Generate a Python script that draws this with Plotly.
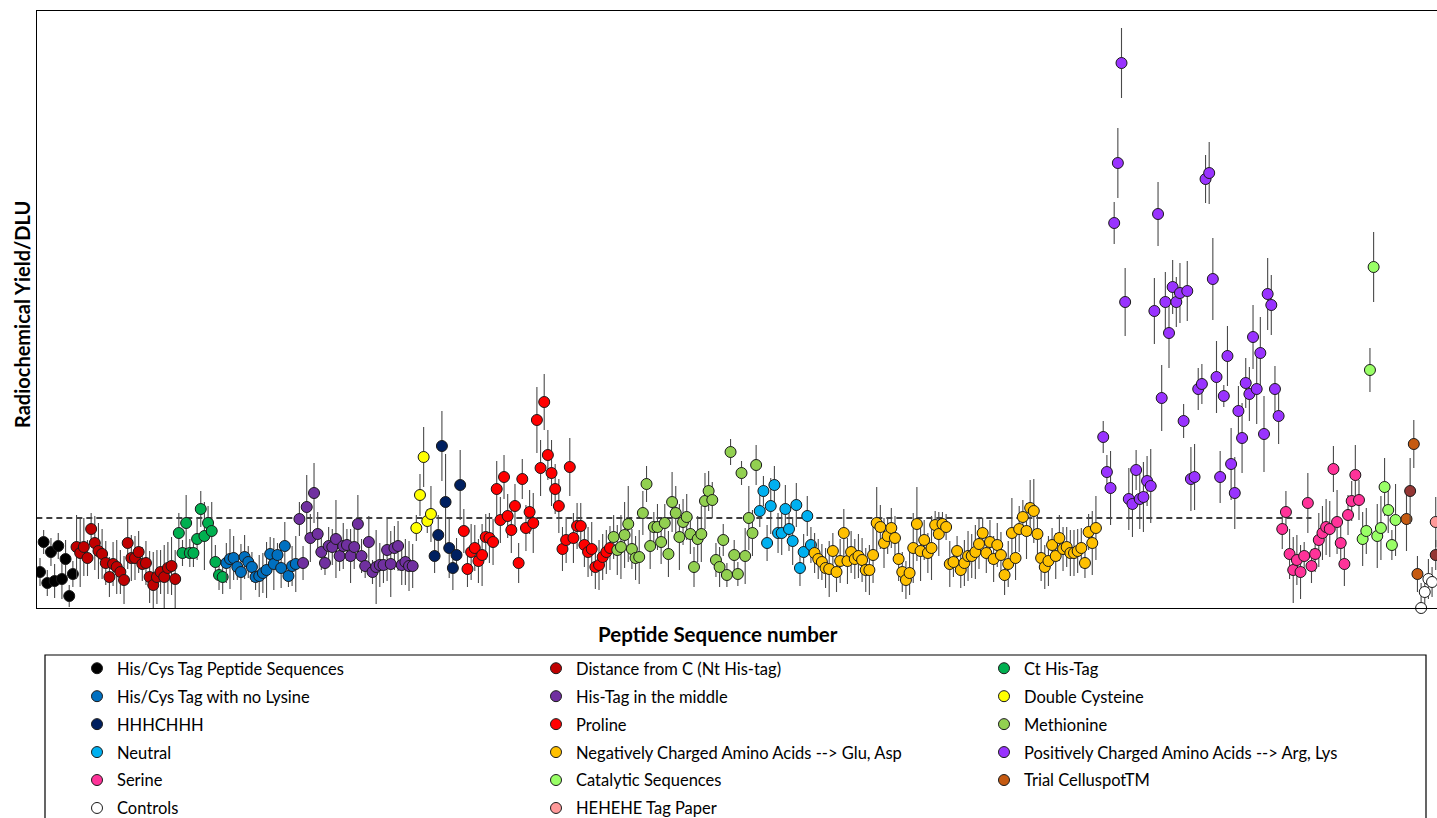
import plotly.graph_objects as go

# ---- peptide families: radiochemical yield per DLU and its standard deviation ----
his_cys_y = [0.36, 0.66, 0.25, 0.56, 0.27, 0.62, 0.29, 0.49, 0.12, 0.34]
his_cys_err = [0.14, 0.12, 0.13, 0.14, 0.17, 0.13, 0.20, 0.19, 0.11, 0.13]

dist_c_y = [0.61, 0.55, 0.61, 0.50, 0.79, 0.65, 0.57, 0.54, 0.45, 0.31, 0.44, 0.41, 0.36, 0.28,
            0.65, 0.50, 0.50, 0.56, 0.44, 0.45, 0.31, 0.23, 0.31, 0.36, 0.31, 0.40, 0.42, 0.29]
dist_c_err = [0.32, 0.34, 0.29, 0.18, 0.16, 0.27, 0.28, 0.25, 0.22, 0.20, 0.22, 0.27, 0.22, 0.24,
              0.26, 0.23, 0.22, 0.21, 0.17, 0.22, 0.26, 0.33, 0.27, 0.22, 0.32, 0.26, 0.29, 0.29]

ct_his_y = [0.75, 0.55, 0.85, 0.55, 0.55, 0.69, 0.99, 0.72, 0.85, 0.77, 0.46, 0.33, 0.31]
ct_his_err = [0.20, 0.13, 0.28, 0.14, 0.14, 0.21, 0.18, 0.34, 0.17, 0.29, 0.17, 0.15, 0.17]

no_lys_y = [0.45, 0.49, 0.50, 0.41, 0.36, 0.51, 0.46, 0.41, 0.31, 0.32,
            0.35, 0.38, 0.54, 0.44, 0.53, 0.40, 0.62, 0.32, 0.42, 0.44]
no_lys_err = [0.20, 0.30, 0.22, 0.13, 0.28, 0.22, 0.16, 0.15, 0.13, 0.21,
              0.20, 0.28, 0.17, 0.26, 0.12, 0.20, 0.24, 0.11, 0.20, 0.28]

mid_his_y = [0.89, 0.45, 1.01, 0.70, 1.15, 0.74, 0.56, 0.45, 0.62, 0.61, 0.69, 0.52, 0.62, 0.63, 0.52, 0.61,
             0.84, 0.52, 0.42, 0.66, 0.36, 0.41, 0.43, 0.43, 0.58, 0.44, 0.60, 0.62, 0.43, 0.46, 0.42, 0.42]
mid_his_err = [0.17, 0.17, 0.32, 0.24, 0.30, 0.22, 0.18, 0.12, 0.19, 0.18, 0.39, 0.15, 0.23, 0.16, 0.27, 0.22,
               0.29, 0.17, 0.12, 0.26, 0.12, 0.37, 0.22, 0.18, 0.31, 0.33, 0.22, 0.25, 0.20, 0.23, 0.25, 0.22]

double_cys_y = [0.80, 1.13, 1.51, 0.87, 0.94]
double_cys_err = [0.13, 0.21, 0.30, 0.12, 0.28]

hhhchhh_y = [0.52, 0.73, 1.62, 1.06, 0.60, 0.40, 0.53, 1.23]
hhhchhh_err = [0.17, 0.20, 0.35, 0.48, 0.30, 0.22, 0.17, 0.35]

proline_y = [0.77, 0.39, 0.56, 0.60, 0.47, 0.53, 0.71, 0.70, 0.66, 1.19, 0.88, 1.31, 0.92, 0.78,
             1.02, 0.45, 1.29, 0.80, 0.96, 0.85, 1.88, 1.40, 2.06, 1.53, 1.35, 1.19, 1.02, 0.59,
             0.68, 1.41, 0.70, 0.82, 0.82, 0.63, 0.56, 0.59, 0.41, 0.43, 0.51, 0.56, 0.60]
proline_err = [0.22, 0.18, 0.28, 0.23, 0.22, 0.31, 0.23, 0.25, 0.23, 0.28, 0.23, 0.22, 0.22, 0.23,
               0.22, 0.20, 0.20, 0.23, 0.22, 0.30, 0.33, 0.28, 0.28, 0.25, 0.33, 0.25, 0.27, 0.22,
               0.23, 0.29, 0.25, 0.23, 0.23, 0.22, 0.25, 0.27, 0.22, 0.25, 0.23, 0.22, 0.22]

methionine_y = [0.71, 0.58, 0.61, 0.73, 0.84, 0.59, 0.50, 0.51, 0.95, 1.24, 0.62, 0.81, 0.81, 0.66,
                0.85, 0.54, 1.06, 0.95, 0.71, 0.86, 0.91, 0.74, 0.41, 0.69, 0.74, 1.07, 1.17, 1.08,
                0.48, 0.41, 0.68, 0.33, 1.56, 0.53, 0.34, 1.35, 0.52, 0.90, 0.75, 1.43]
methionine_err = [0.22, 0.25, 0.32, 0.33, 0.38, 0.20, 0.22, 0.27, 0.22, 0.18, 0.23, 0.15, 0.23, 0.22,
                  0.19, 0.23, 0.30, 0.27, 0.33, 0.23, 0.23, 0.20, 0.20, 0.23, 0.28, 0.28, 0.20, 0.18,
                  0.17, 0.20, 0.16, 0.12, 0.13, 0.15, 0.12, 0.12, 0.28, 0.32, 0.23, 0.20]

neutral_y = [0.97, 1.17, 0.65, 1.02, 1.23, 0.75, 0.75, 0.99, 0.79, 0.67, 1.03, 0.40, 0.56, 0.92, 0.63]
neutral_err = [0.16, 0.15, 0.18, 0.28, 0.19, 0.20, 0.22, 0.24, 0.22, 0.24, 0.22, 0.18, 0.18, 0.20, 0.18]

negative_y = [0.55, 0.49, 0.46, 0.40, 0.39, 0.57, 0.36, 0.47, 0.75, 0.47, 0.56, 0.49, 0.52,
              0.48, 0.38, 0.38, 0.53, 0.85, 0.81, 0.65, 0.72, 0.80, 0.70, 0.49, 0.36, 0.28,
              0.35, 0.60, 0.84, 0.57, 0.68, 0.55, 0.60, 0.83, 0.74, 0.84, 0.81, 0.44, 0.46,
              0.57, 0.38, 0.45, 0.52, 0.52, 0.56, 0.64, 0.75, 0.55, 0.66, 0.49, 0.63, 0.53,
              0.33, 0.44, 0.75, 0.50, 0.79, 0.91, 0.77, 1.00, 0.97, 0.74, 0.50, 0.41, 0.47,
              0.63, 0.52, 0.70, 0.59, 0.61, 0.55, 0.55, 0.57, 0.60, 0.45, 0.76, 0.65, 0.80]
negative_err = [0.20, 0.20, 0.18, 0.20, 0.28, 0.18, 0.20, 0.22, 0.24, 0.23, 0.21, 0.20, 0.22,
                0.22, 0.22, 0.25, 0.28, 0.36, 0.22, 0.25, 0.18, 0.20, 0.22, 0.22, 0.20, 0.19,
                0.22, 0.35, 0.37, 0.30, 0.20, 0.20, 0.32, 0.14, 0.22, 0.12, 0.13, 0.23, 0.15,
                0.15, 0.18, 0.23, 0.25, 0.22, 0.27, 0.25, 0.15, 0.20, 0.22, 0.23, 0.22, 0.23,
                0.20, 0.23, 0.35, 0.22, 0.23, 0.17, 0.28, 0.28, 0.32, 0.22, 0.23, 0.22, 0.25,
                0.17, 0.23, 0.23, 0.22, 0.20, 0.23, 0.23, 0.22, 0.20, 0.15, 0.18, 0.32, 0.32]

positive_y = [1.71, 1.36, 1.20, 3.85, 4.45, 5.45, 3.06, 1.09, 1.04, 1.38, 1.09, 1.11, 1.27,
              1.22, 2.97, 3.94, 2.10, 3.06, 2.75, 3.21, 3.06, 3.15, 1.87, 3.17, 1.29, 1.31,
              2.19, 2.24, 4.29, 4.35, 3.29, 2.31, 1.31, 2.12, 2.52, 1.44, 1.15, 1.97, 1.70,
              2.25, 2.14, 2.71, 2.19, 2.55, 1.74, 3.14, 3.03, 2.19, 1.92]
positive_err = [0.16, 0.17, 0.37, 0.21, 0.35, 0.35, 0.34, 0.31, 0.33, 0.20, 0.30, 0.35, 0.25,
                0.37, 0.33, 0.32, 0.33, 0.30, 0.35, 0.27, 0.25, 0.30, 0.17, 0.30, 0.32, 0.33,
                0.21, 0.20, 0.24, 0.31, 0.41, 0.36, 0.26, 0.11, 0.30, 0.36, 0.36, 0.25, 0.35,
                0.25, 0.27, 0.32, 0.35, 0.36, 0.38, 0.36, 0.30, 0.23, 0.28]

serine_y = [0.79, 0.96, 0.54, 0.38, 0.48, 0.36, 0.52, 1.05, 0.42, 0.54, 0.68,
            0.75, 0.81, 0.79, 1.39, 0.86, 0.65, 0.44, 0.93, 1.07, 1.33, 1.08]
serine_err = [0.20, 0.21, 0.25, 0.33, 0.25, 0.27, 0.14, 0.30, 0.17, 0.18, 0.27,
              0.27, 0.28, 0.28, 0.23, 0.32, 0.17, 0.22, 0.20, 0.20, 0.30, 0.20]

catalytic_y = [0.69, 0.77, 2.38, 3.41, 0.72, 0.80, 1.21, 0.98, 0.63, 0.88]
catalytic_err = [0.27, 0.23, 0.22, 0.35, 0.32, 0.32, 0.29, 0.23, 0.15, 0.36]

trial_seq = [375, 377, 378]
trial_y = [0.89, 1.64, 0.34]
trial_err = [0.32, 0.24, 0.18]

trial_repeat_seq = [376, 383]
trial_repeat_y = [1.17, 0.53]
trial_repeat_err = [0.33, 0.15]

controls_seq = [379, 380, 381, 382]
controls_y = [0.00, 0.16, 0.29, 0.26]
controls_err = [0.25, 0.15, 0.20, 0.15]

hehehe_seq = [383]
hehehe_y = [0.86]
hehehe_err = [0.25]

# first sequence number of each contiguous family block
start_seq = {
    "his_cys": 1, "dist_c": 11, "ct_his": 39, "no_lys": 52, "mid_his": 72,
    "double_cys": 104, "hhhchhh": 109, "proline": 117, "methionine": 158,
    "neutral": 198, "negative": 213, "positive": 292, "serine": 341, "catalytic": 363,
}

threshold_y = 0.90          # reference yield, dashed line
threshold_end_seq = 349     # last sequence number covered by the dashed line


def seq(key, values):
    s = start_seq[key]
    return list(range(s, s + len(values)))


# (legend label, fill colour, x, y, err, legend column)
series = [
    ("His/Cys Tag Peptide Sequences", "#000000", seq("his_cys", his_cys_y), his_cys_y, his_cys_err, "legend"),
    ("Distance from C (Nt His-tag)", "#C00000", seq("dist_c", dist_c_y), dist_c_y, dist_c_err, "legend2"),
    ("Ct His-Tag", "#00B050", seq("ct_his", ct_his_y), ct_his_y, ct_his_err, "legend3"),
    ("His/Cys Tag with no Lysine", "#0070C0", seq("no_lys", no_lys_y), no_lys_y, no_lys_err, "legend"),
    ("His-Tag in the middle", "#7030A0", seq("mid_his", mid_his_y), mid_his_y, mid_his_err, "legend2"),
    ("Double Cysteine", "#FFFF00", seq("double_cys", double_cys_y), double_cys_y, double_cys_err, "legend3"),
    ("HHHCHHH", "#002060", seq("hhhchhh", hhhchhh_y), hhhchhh_y, hhhchhh_err, "legend"),
    ("Proline", "#FF0000", seq("proline", proline_y), proline_y, proline_err, "legend2"),
    ("Methionine", "#92D050", seq("methionine", methionine_y), methionine_y, methionine_err, "legend3"),
    ("Neutral", "#00B0F0", seq("neutral", neutral_y), neutral_y, neutral_err, "legend"),
    ("Negatively Charged Amino Acids --> Glu, Asp", "#FFC000", seq("negative", negative_y), negative_y, negative_err, "legend2"),
    ("Positively Charged Amino Acids --> Arg, Lys", "#9933FF", seq("positive", positive_y), positive_y, positive_err, "legend3"),
    ("Serine", "#FF3399", seq("serine", serine_y), serine_y, serine_err, "legend"),
    ("Catalytic Sequences", "#99FF66", seq("catalytic", catalytic_y), catalytic_y, catalytic_err, "legend2"),
    ("Trial CelluspotTM", "#C55A11", trial_seq, trial_y, trial_err, "legend3"),
    ("Controls", "#FFFFFF", controls_seq, controls_y, controls_err, "legend"),
    ("HEHEHE Tag Paper", "#FF9999", hehehe_seq, hehehe_y, hehehe_err, "legend2"),
]

fig = go.Figure()

for label, colour, xs, ys, errs, leg in series:
    fig.add_trace(go.Scatter(
        x=xs, y=ys, mode="markers", name=label,
        legend=leg, legendgroup=label,
        marker=dict(size=11, color=colour, line=dict(color="#1a1a1a", width=1)),
        error_y=dict(type="data", array=errs, arrayminus=[min(e, v) for e, v in zip(errs, ys)],
                     color="#4a4a4a", thickness=1.1, width=0),
        cliponaxis=(label != "Controls"),
    ))

fig.add_trace(go.Scatter(
    x=trial_repeat_seq, y=trial_repeat_y, mode="markers", showlegend=False,
    marker=dict(size=11, color="#943634", line=dict(color="#1a1a1a", width=1)),
    error_y=dict(type="data", array=trial_repeat_err, color="#4a4a4a", thickness=1.1, width=0),
))

# dashed reference level
fig.add_shape(type="line", xref="x", yref="y", x0=0, x1=threshold_end_seq,
              y0=threshold_y, y1=threshold_y, layer="below",
              line=dict(color="black", width=1.6, dash="6px,4px"))

# pixel helpers for the plot area (37..1437 wide, 11..608 tall)
def px_x(px):
    return (px - 37) / 1400


def px_y(py):
    return (608 - py) / 597


# frame around the legend block
fig.add_shape(type="rect", xref="paper", yref="paper",
              x0=px_x(45), x1=px_x(1426), y0=px_y(655), y1=px_y(850),
              line=dict(color="black", width=1.2), fillcolor="rgba(0,0,0,0)")

fig.add_annotation(text="<b>Peptide Sequence number</b>", xref="paper", yref="paper",
                   x=px_x(718), y=px_y(634), showarrow=False,
                   font=dict(family="Lato", size=20.5, color="black"),
                   xanchor="center", yanchor="middle")
fig.add_annotation(text="<b>Radiochemical Yield/DLU</b>", xref="paper", yref="paper",
                   x=px_x(22), y=px_y(315), showarrow=False, textangle=-90,
                   font=dict(family="Lato", size=20, color="black"),
                   xanchor="center", yanchor="middle")

legend_style = dict(xref="paper", yref="paper", yanchor="top", xanchor="left",
                    orientation="v", bgcolor="rgba(0,0,0,0)", borderwidth=0,
                    tracegroupgap=3.5, font=dict(family="Lato", size=16.5, color="black"),
                    itemwidth=30)
top = px_y(651)
fig.update_layout(
    width=1437, height=818,
    margin=dict(l=37, r=0, t=11, b=210, autoexpand=False),
    paper_bgcolor="white", plot_bgcolor="white",
    showlegend=True,
    legend=dict(x=px_x(77), y=top, **legend_style),
    legend2=dict(x=px_x(536), y=top, **legend_style),
    legend3=dict(x=px_x(984), y=top, **legend_style),
    xaxis=dict(range=[0.18, 383.35], showticklabels=False, ticks="", showgrid=False,
               zeroline=False, showline=True, linecolor="black", linewidth=1.3, mirror=True),
    yaxis=dict(range=[0, 5.97], showticklabels=False, ticks="", showgrid=False,
               zeroline=False, showline=True, linecolor="black", linewidth=1.3),
)

fig.write_html("out.html")
